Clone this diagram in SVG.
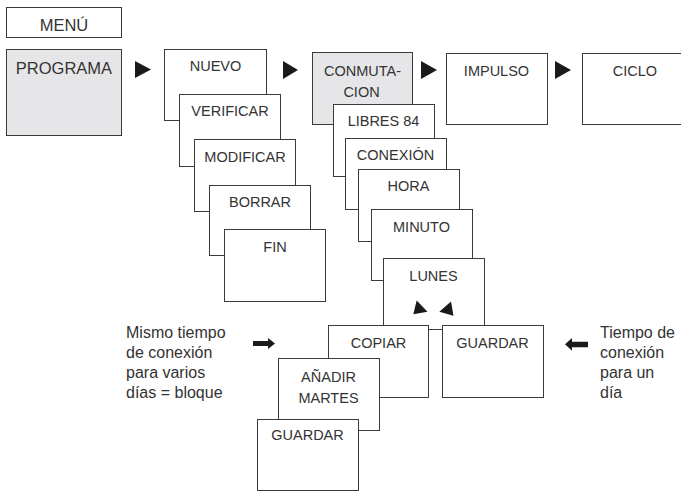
<svg xmlns="http://www.w3.org/2000/svg" width="681" height="491" viewBox="0 0 681 491">
<style>
rect.b{fill:#fff;stroke:#3a3a3a;stroke-width:1}
rect.g{fill:#e6e6e8;stroke:#3a3a3a;stroke-width:1}
text{font-family:"Liberation Sans",Arial,sans-serif;fill:#333;}
text.l{font-size:14.5px;text-anchor:middle}
text.big{font-size:16.5px;text-anchor:middle}
text.side{font-size:16px}
.tri{fill:#1a1a1a}
</style>
<rect width="681" height="491" fill="#fff"/>
<g id="menu"><rect class="b" x="6.5" y="7.5" width="115" height="30"/><text class="big" x="64" y="31">MENÚ</text></g>
<g id="programa"><rect class="g" x="6.5" y="49.5" width="115" height="86"/><text class="big" x="64" y="73.5">PROGRAMA</text></g>
<g id="nuevo"><rect class="b" x="164.5" y="49.5" width="102" height="71"/><text class="l" x="215.5" y="71">NUEVO</text></g>
<g id="verificar"><rect class="b" x="179.5" y="94.5" width="101" height="72"/><text class="l" x="230" y="116">VERIFICAR</text></g>
<g id="modificar"><rect class="b" x="194.5" y="139.5" width="101" height="72"/><text class="l" x="245" y="162">MODIFICAR</text></g>
<g id="borrar"><rect class="b" x="209.5" y="185.5" width="101" height="70"/><text class="l" x="260" y="207">BORRAR</text></g>
<g id="fin"><rect class="b" x="224.5" y="229.5" width="101" height="72"/><text class="l" x="275" y="252">FIN</text></g>
<g id="conmutacion"><rect class="g" x="312.5" y="52.5" width="100" height="72"/><text class="l" x="362.5" y="76">CONMUTA-</text><text class="l" x="361.5" y="97">CION</text></g>
<g id="impulso"><rect class="b" x="446.5" y="53.5" width="101" height="71"/><text class="l" x="496.5" y="76">IMPULSO</text></g>
<g id="ciclo"><rect class="b" x="582.5" y="53.5" width="104" height="71"/><text class="l" x="635" y="75.5">CICLO</text></g>
<g id="libres84"><rect class="b" x="333.5" y="104.5" width="101" height="72"/><text class="l" x="383.5" y="126">LIBRES 84</text></g>
<g id="conexion"><rect class="b" x="345.5" y="138.5" width="101" height="71"/><text class="l" x="395.5" y="160">CONEXIÓN</text></g>
<g id="hora"><rect class="b" x="358.5" y="169.5" width="101" height="72"/><text class="l" x="408.5" y="191">HORA</text></g>
<g id="minuto"><rect class="b" x="371.5" y="209.5" width="101" height="71"/><text class="l" x="421.5" y="232">MINUTO</text></g>
<g id="lunes"><rect class="b" x="383.5" y="258.5" width="101" height="71"/><text class="l" x="433.5" y="281">LUNES</text>
<polygon class="tri" points="416.7,300.5 413.3,314.3 427.5,311.7"/>
<polygon class="tri" points="451,301.5 439.3,311.7 453.5,315.7"/></g>
<g id="copiar"><rect class="b" x="328.5" y="325.5" width="100" height="72"/><text class="l" x="378.5" y="348">COPIAR</text></g>
<g id="guardar1"><rect class="b" x="442.5" y="325.5" width="101" height="72"/><text class="l" x="492.5" y="348">GUARDAR</text></g>
<g id="anadir"><rect class="b" x="278.5" y="358.5" width="101" height="72"/><text class="l" x="328.5" y="382">AÑADIR</text><text class="l" x="328.5" y="403">MARTES</text></g>
<g id="guardar2"><rect class="b" x="257.5" y="419.5" width="101" height="71"/><text class="l" x="307.5" y="440">GUARDAR</text></g>
<g id="note-left"><text class="side" x="126" y="338">Mismo tiempo</text><text class="side" x="126" y="358">de conexión</text><text class="side" x="126" y="378">para varios</text><text class="side" x="126" y="398">días = bloque</text></g>
<g id="note-right"><text class="side" x="600" y="338">Tiempo de</text><text class="side" x="600" y="358">conexión</text><text class="side" x="600" y="378">para un</text><text class="side" x="600" y="398">día</text></g>
<g id="connectors">
<polygon class="tri" points="135,61 151,69.5 135,78"/>
<polygon class="tri" points="283,61 298,70 283,79"/>
<polygon class="tri" points="421,61 437,70 421,79"/>
<polygon class="tri" points="555,61 571,70 555,79"/>
<polygon class="tri" points="253,341 268,341 268,338 275,343.5 268,349 268,346 253,346"/>
<polygon class="tri" points="588,341.7 572,341.7 572,338 565,344.3 572,350.7 572,347.3 588,347.3"/>
</g>
</svg>
